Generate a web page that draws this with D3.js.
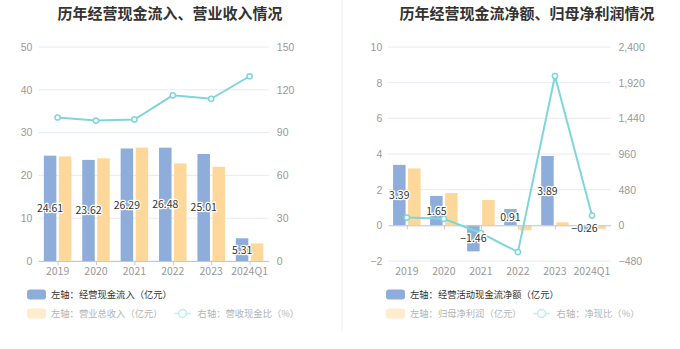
<!DOCTYPE html>
<html><head><meta charset="utf-8">
<script src="https://cdn.jsdelivr.net/npm/d3@7"></script>
<style>
body{margin:0;background:#fff;}
svg{display:block;font-family:"Noto Sans CJK SC","Noto Sans",sans-serif;}
</style></head>
<body><svg id="c" width="680" height="349"></svg>
<script>
const categories = ["2019","2020","2021","2022","2023","2024Q1"];
// left panel
const cashInflow = [24.61, 23.62, 26.29, 26.48, 25.01, 5.31];
const revenue = [24.45, 24.0, 26.5, 22.8, 22.0, 4.1];
const cashRevenueRatio = [100.6, 98.4, 99.2, 116.1, 113.7, 129.5];
const leftTicksL = [0,10,20,30,40,50];
const leftTicksR = [0,30,60,90,120,150];
// right panel
const netCashFlow = [3.39, 1.65, -1.46, 0.91, 3.89, -0.26];
const netProfit = [3.19, 1.81, 1.42, -0.28, 0.17, -0.2];
const netCashRatio = [105, 88, -103, -360, 2010, 132];
const rightTicksL = [-2,0,2,4,6,8,10];
const rightTicksR = [-480,0,480,960,1440,1920,2400];

const BLUE="#8eaddb", ORANGE="#fed89b", TEAL="#7fd6da";
const svg = d3.select("#c");

// divider
svg.append("line").attr("x1",342).attr("x2",342).attr("y1",0).attr("y2",332)
  .attr("stroke","#f0f0f0").attr("stroke-width",1);

function panel(o){
  const g = svg.append("g");
  g.append("text").attr("x",o.titleX).attr("y",19).attr("text-anchor","middle")
    .attr("font-size",15).attr("font-weight","bold").attr("fill","#333").text(o.title);
  const x = d3.scalePoint().domain(categories).range(o.xr).padding(0.5);
  const yL = d3.scaleLinear().domain(o.dL).range([261,47]);
  const yR = d3.scaleLinear().domain(o.dR).range([261,47]);
  // grid
  g.selectAll(".grid").data(o.tL).join("line")
    .attr("x1",o.xr[0]).attr("x2",o.xr[1]).attr("y1",d=>yL(d)).attr("y2",d=>yL(d))
    .attr("stroke","#e6eaf3").attr("stroke-width",1);
  // left axis labels
  g.append("g").attr("transform",`translate(${o.xr[0]-6},0)`)
    .call(d3.axisLeft(yL).tickValues(o.tL).tickSize(0).tickPadding(0).tickFormat(d3.format("d")))
    .call(a=>a.select(".domain").remove())
    .call(a=>a.selectAll("text").attr("fill","#999").attr("font-size",10.5).attr("font-family",null));
  g.append("g").attr("transform",`translate(${o.xr[1]+8},0)`)
    .call(d3.axisRight(yR).tickValues(o.tR).tickSize(0).tickPadding(0).tickFormat(o.fmtR))
    .call(a=>a.select(".domain").remove())
    .call(a=>a.selectAll("text").attr("fill","#999").attr("font-size",10.5).attr("font-family",null));
  // bars
  const bw=12.5;
  const y0 = yL(0);
  g.selectAll(".b1").data(o.s1).join("rect")
    .attr("x",(d,i)=>x(categories[i])-13.75).attr("width",bw)
    .attr("y",d=>Math.min(yL(d),y0)).attr("height",d=>Math.abs(yL(d)-y0)).attr("fill",BLUE);
  g.selectAll(".b2").data(o.s2).join("rect")
    .attr("x",(d,i)=>x(categories[i])+1.25).attr("width",bw)
    .attr("y",d=>Math.min(yL(d),y0)).attr("height",d=>Math.abs(yL(d)-y0)).attr("fill",ORANGE);
  // x axis line at zero
  g.append("g").attr("transform",`translate(0,${y0})`)
    .call(d3.axisBottom(x).tickSize(4).tickSizeOuter(0).tickFormat(""))
    .call(a=>a.select(".domain").attr("stroke","#c8c8c8"))
    .call(a=>a.selectAll(".tick line").attr("stroke","#c8c8c8"));
  // x labels at bottom
  g.selectAll(".xl").data(categories).join("text")
    .attr("x",d=>x(d)).attr("y",275).attr("text-anchor","middle")
    .attr("font-size",10.5).attr("fill","#999").text(d=>d);
  // line
  const line = d3.line().x((d,i)=>x(categories[i])).y(d=>yR(d));
  g.append("path").datum(o.s3).attr("d",line).attr("fill","none")
    .attr("stroke",TEAL).attr("stroke-width",2);
  g.selectAll(".pt").data(o.s3).join("circle")
    .attr("cx",(d,i)=>x(categories[i])).attr("cy",d=>yR(d)).attr("r",2.6)
    .attr("fill","#fff").attr("stroke",TEAL).attr("stroke-width",1.5);
  // labels
  g.selectAll(".lb").data(o.s1).join("text")
    .attr("x",(d,i)=>x(categories[i])-7.5).attr("y",d=>(yL(d)+y0)/2+4)
    .attr("text-anchor","middle").attr("font-size",10.5).attr("fill","#333")
    .attr("stroke","#fff").attr("stroke-width",2.5).attr("paint-order","stroke")
    .attr("stroke-linejoin","round").text(d=>d3.format(".2f")(d));
  // legend
  const lx=o.legX, fs=9.3;
  g.append("rect").attr("x",lx).attr("y",289.5).attr("width",19).attr("height",10).attr("rx",3).attr("fill",BLUE);
  g.append("text").attr("x",lx+24).attr("y",298).attr("font-size",fs).attr("fill","#333").text(o.leg[0]);
  g.append("rect").attr("x",lx).attr("y",308.5).attr("width",19).attr("height",10).attr("rx",3).attr("fill","#feeccc");
  const t2 = g.append("text").attr("x",lx+24).attr("y",317).attr("font-size",fs).attr("fill","#b5b5b5").text(o.leg[1]);
  const w2 = t2.node().getComputedTextLength();
  const ix = lx+24+w2+12;
  g.append("line").attr("x1",ix).attr("x2",ix+16).attr("y1",313.5).attr("y2",313.5).attr("stroke","#bfeced").attr("stroke-width",1.5);
  g.append("circle").attr("cx",ix+8).attr("cy",313.5).attr("r",4).attr("fill","#fff").attr("stroke","#bfeced").attr("stroke-width",1.5);
  g.append("text").attr("x",ix+23).attr("y",317).attr("font-size",fs).attr("fill","#b5b5b5").text(o.leg[2]);
}

panel({title:"历年经营现金流入、营业收入情况", titleX:170, xr:[38.4,268.8],
  dL:[0,50], dR:[0,150], tL:leftTicksL, tR:leftTicksR, fmtR:d3.format("d"),
  s1:cashInflow, s2:revenue, s3:cashRevenueRatio, legX:27,
  leg:["左轴：经营现金流入（亿元）","左轴：营业总收入（亿元）","右轴：营收现金比（%）"]});
panel({title:"历年经营现金流净额、归母净利润情况", titleX:527, xr:[388.3,610.5],
  dL:[-2,10], dR:[-480,2400], tL:rightTicksL, tR:rightTicksR, fmtR:d3.format(","),
  s1:netCashFlow, s2:netProfit, s3:netCashRatio, legX:386,
  leg:["左轴：经营活动现金流净额（亿元）","左轴：归母净利润（亿元）","右轴：净现比（%）"]});
</script></body></html>
